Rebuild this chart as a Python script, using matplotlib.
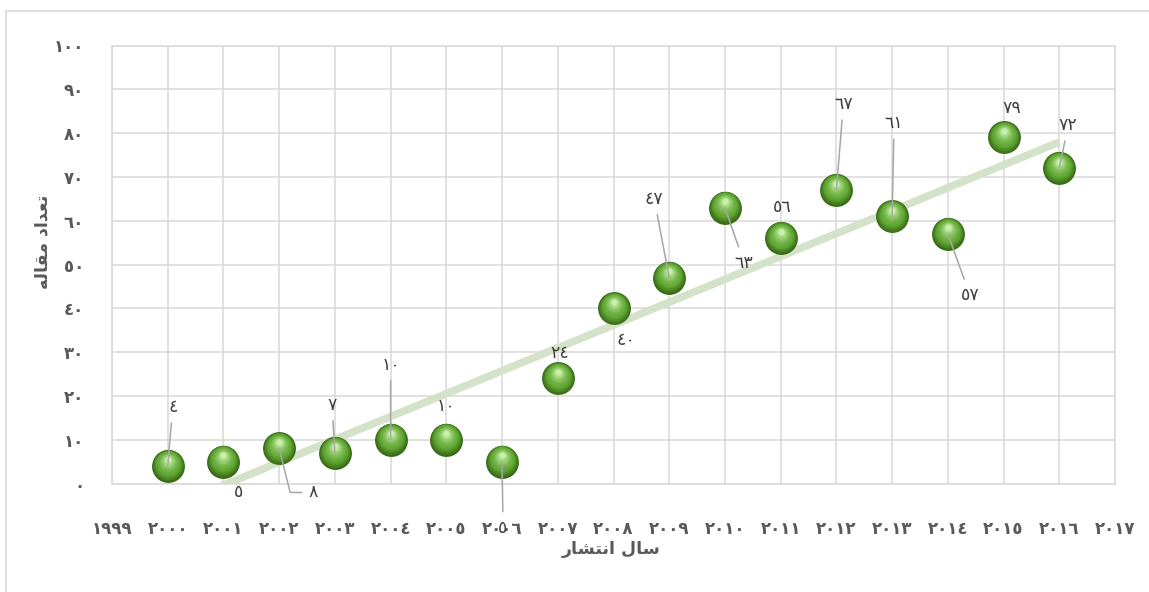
import matplotlib
matplotlib.use('Agg')
import matplotlib.pyplot as plt
from matplotlib.patches import Rectangle
from matplotlib.transforms import offset_copy
from matplotlib.colors import to_rgb
import numpy as np

# Data
years = np.arange(2000, 2017)
papers = np.array([4, 5, 8, 7, 10, 10, 5, 24, 40, 47, 63, 56, 67, 61, 57, 79, 72])
x_ticks = np.arange(1999, 2018)
y_ticks = np.arange(0, 101, 10)

# Persian text, already in visual order with presentation forms
x_title = '\ufead\ufe8e\ufeb8\ufe98\ufee7\ufe8d \ufedd\ufe8e\ufeb3'          # سال انتشار
y_title = '\ufeea\ufedf\ufe8e\ufed8\ufee3 \ufea9\ufe8d\ufeaa\ufecc\ufe97'    # تعداد مقاله

ar = str.maketrans('0123456789', '\u0660\u0661\u0662\u0663\u0664\u0665\u0666\u0667\u0668\u0669')
def fa(n):
    return str(n).translate(ar)

# label offsets in pixels (dx right, dy up) and leader type (0 none, 1 straight, 2 elbow)
lab_off = [(5, 59), (15, -30), (34, -44), (-3, 48), (0, 75), (0, 34), (1, -66),
           (2, 25), (12, -32), (-15, 79), (19, -55), (2, 31), (7, 86), (2, 93),
           (22, -61), (8, 29), (9, 43)]
leader = [1, 0, 2, 1, 1, 0, 1, 0, 0, 1, 1, 0, 1, 1, 1, 0, 1]

plt.rcParams['font.family'] = ['DejaVu Sans']
fig = plt.figure(figsize=(11.49, 5.92), dpi=100)
W, H = 1149, 592
ax = fig.add_axes([112 / W, (H - 483.5) / H, 1003 / W, 438 / H])

# chart border
fig.patches.append(Rectangle((6 / W, -0.1), 1.2, 1.1 - 11 / H, transform=fig.transFigure,
                             fill=False, edgecolor='#d9d9d9', lw=1.2))

grid_c = '#d9d9d9'
ax.set_xlim(1999, 2017)
ax.set_ylim(0, 100)
ax.set_xticks(x_ticks)
ax.set_yticks(y_ticks)
ax.set_xticklabels([fa(t) for t in x_ticks])
ax.set_yticklabels([fa(t) for t in y_ticks])
ax.grid(True, color=grid_c, lw=1.1)
ax.set_axisbelow(True)
for s in ax.spines.values():
    s.set_color(grid_c)
    s.set_linewidth(1.1)
ax.tick_params(length=0, labelsize=12, labelcolor='#595959')
ax.tick_params(axis='x', pad=26)
ax.tick_params(axis='y', pad=20)
for t in ax.get_xticklabels() + ax.get_yticklabels():
    t.set_fontweight('bold')

# linear trendline
p = np.polyfit(years, papers, 1)
ax.plot(years, np.polyval(p, years), color='#d5e2ca', lw=5.5, solid_capstyle='butt', zorder=2)

# spheres: stacked circles for a shaded look
size = 560
n = 16
dark, mid, light = np.array(to_rgb('#386a16')), np.array(to_rgb('#63aa36')), np.array(to_rgb('#c8f0aa'))
for k in range(n):
    t = k / (n - 1)
    f = (1 - t) ** 1.6 * 0.97 + 0.03
    c = dark + (mid - dark) * min(t / 0.35, 1) if t < 0.35 else mid + (light - mid) * ((t - 0.35) / 0.65) ** 1.5
    tr = offset_copy(ax.transData, fig=fig, x=0, y=6.5 * t ** 0.8, units='dots')
    ax.scatter(years, papers, s=size * f, color=c, lw=0, transform=tr, zorder=3 + k * 0.01)

# data labels with leader lines
for yr, v, (dx, dy), ld in zip(years, papers, lab_off, leader):
    props = None
    if ld == 1:
        props = dict(arrowstyle='-', color='#a6a6a6', lw=1.1, shrinkA=3, shrinkB=0)
    elif ld == 2:
        props = dict(arrowstyle='-', color='#a6a6a6', lw=1.1, shrinkA=3, shrinkB=0,
                     connectionstyle='angle,angleA=0,angleB=-76,rad=0')
    ax.annotate(fa(v), (yr, v), xytext=(dx, dy), textcoords='offset pixels',
                ha='center', va='center', fontsize=12.5, color='#404040',
                arrowprops=props, zorder=5, annotation_clip=False)

fig.text(611 / W, 1 - 549 / H, x_title, ha='center', va='center', fontsize=12.5,
         fontweight='bold', color='#595959')
fig.text(42 / W, 1 - 242 / H, y_title, ha='center', va='center', fontsize=12.5,
         fontweight='bold', color='#595959', rotation=90)

fig.savefig('out.png', dpi=100, facecolor='white')
